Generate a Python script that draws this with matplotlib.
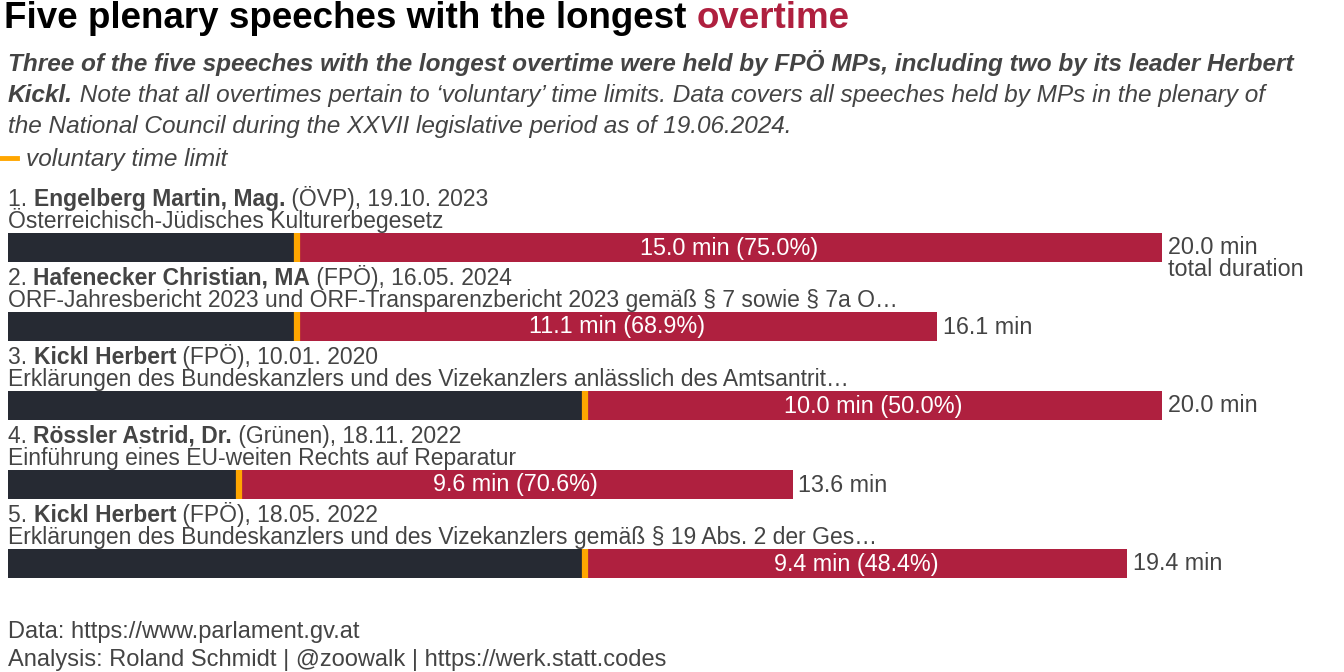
import matplotlib
matplotlib.use("Agg")
import matplotlib.pyplot as plt

RED, DARK, ORANGE, INK = "#af203f", "#262a33", "#ffa600", "#444444"
plt.rcParams["font.family"] = ["Liberation Sans", "DejaVu Sans"]

ranks = ["1. ", "2. ", "3. ", "4. ", "5. "]
names = ["Engelberg Martin, Mag.", "Hafenecker Christian, MA", "Kickl Herbert",
         "Rössler Astrid, Dr.", "Kickl Herbert"]
parties = ["ÖVP", "FPÖ", "FPÖ", "Grünen", "FPÖ"]
dates = ["19.10. 2023", "16.05. 2024", "10.01. 2020", "18.11. 2022", "18.05. 2022"]
topics = ["Österreichisch-Jüdisches Kulturerbegesetz",
          "ORF-Jahresbericht 2023 und ORF-Transparenzbericht 2023 gemäß § 7 sowie § 7a O…",
          "Erklärungen des Bundeskanzlers und des Vizekanzlers anlässlich des Amtsantrit…",
          "Einführung eines EU-weiten Rechts auf Reparatur",
          "Erklärungen des Bundeskanzlers und des Vizekanzlers gemäß § 19 Abs. 2 der Ges…"]
total = [20.0, 16.1, 20.0, 13.6, 19.4]
overtime = [15.0, 11.1, 10.0, 9.6, 9.4]
share = [75.0, 68.9, 50.0, 70.6, 48.4]

W, H = 1344, 672
fig = plt.figure(figsize=(W / 100, H / 100), dpi=100)
ax = fig.add_axes([8 / W, 0, 1154 / W, 1])
ax.set_xlim(0, 20); ax.set_ylim(H, 0); ax.axis("off")
fig.canvas.draw()
r = fig.canvas.get_renderer()


def pieces(x, y, parts, size, color=INK, style="normal"):
    # parts: list of (text, weight[, color]); x,y in figure pixels (y from top)
    for p in parts:
        t = fig.text(x / W, 1 - y / H, p[0], fontsize=size, fontweight=p[1],
                     color=p[2] if len(p) > 2 else color, style=style, va="baseline")
        x += t.get_window_extent(r).width
    return x


pieces(4, 28, [("Five plenary speeches with the longest ", "bold", "black"),
               ("overtime", "bold", RED)], 26.5)
pieces(8, 71, [("Three of the five speeches with the longest overtime were held by FPÖ MPs, including two by its leader Herbert", "bold")], 17.6, style="italic")
pieces(8, 102, [("Kickl.", "bold"), (" Note that all overtimes pertain to ‘voluntary’ time limits. Data covers all speeches held by MPs in the plenary of", "normal")], 17.6, style="italic")
pieces(8, 133, [("the National Council during the XXVII legislative period as of 19.06.2024.", "normal")], 17.6, style="italic")
fig.add_artist(plt.Line2D([0 / W, 17 / W], [1 - 158 / H] * 2, color=ORANGE, lw=3.5))
pieces(26, 166, [("voluntary time limit", "normal")], 17.6, style="italic")

for i in range(5):
    yc = 247 + i * 79
    limit = total[i] - overtime[i]
    ax.barh(yc, limit, height=29, left=0, color=DARK)
    ax.barh(yc, overtime[i], height=29, left=limit, color=RED)
    ax.plot([limit, limit], [yc - 14.5, yc + 14.5], color=ORANGE, lw=4.5, solid_capstyle="butt")
    ax.text(limit + overtime[i] / 2, yc + 1, f"{overtime[i]:.1f} min ({share[i]:.1f}%)",
            ha="center", va="center", color="white", fontsize=16.8)
    ax.text(total[i] + 0.1, yc - 8, f"{total[i]:.1f} min", ha="left", va="baseline",
            color=INK, fontsize=16.8) if False else None
    ax.text(total[i] + 0.1, yc + 1, f"{total[i]:.1f} min", ha="left", va="center",
            color=INK, fontsize=16.8)
    if i == 0:
        ax.text(total[i] + 0.1, yc + 11, "total duration", ha="left", va="top",
                color=INK, fontsize=16.8)
    pieces(8, yc - 41, [(ranks[i], "normal"), (names[i], "bold"),
                        (f" ({parties[i]}), {dates[i]}", "normal")], 16.5)
    pieces(8, yc - 19, [(topics[i], "normal")], 16.5)

pieces(8, 638, [("Data: https://www.parlament.gv.at", "normal")], 17)
pieces(8, 666, [("Analysis: Roland Schmidt | @zoowalk | https://werk.statt.codes", "normal")], 17)

fig.savefig("out.png", dpi=100, facecolor="white")
